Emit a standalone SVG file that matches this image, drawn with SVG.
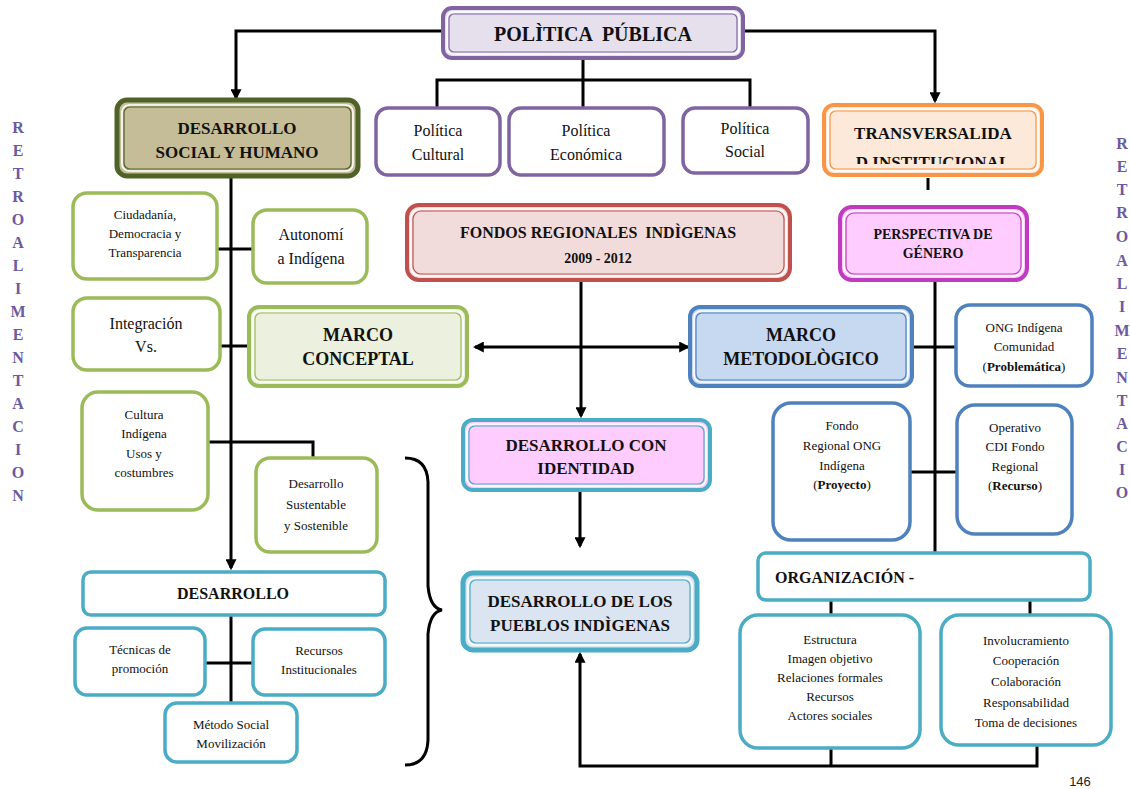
<svg xmlns="http://www.w3.org/2000/svg" width="1130" height="789" viewBox="0 0 1130 789">
<style>
text{font-family:"Liberation Serif","DejaVu Serif",serif;fill:#111;text-anchor:middle}
.b{font-weight:bold}
.h{font-weight:bold;font-size:17px}
.s{font-size:13px}
.m{font-size:16px}
.retro{font-weight:bold;font-size:16px;fill:#6b5a9e}
.ln{fill:none;stroke:#000;stroke-width:3}
.gap{fill:none;stroke:#fff;stroke-width:1.6}
</style>
<defs>
<marker id="ah" viewBox="0 0 10 10" refX="8" refY="5" markerWidth="11" markerHeight="11" markerUnits="userSpaceOnUse" orient="auto-start-reverse">
<path d="M0,0 L10,5 L0,10 z" fill="#000"/>
</marker>
<clipPath id="clipT"><rect x="830" y="110" width="206" height="54"/></clipPath>
</defs>

<g id="connectors">
<path class="ln" d="M443,31 H236 V98" marker-end="url(#ah)"/>
<path class="ln" d="M743,31 H935 V101" marker-end="url(#ah)"/>
<path class="ln" d="M583,58 V108 M437,108 V80 H750 V108"/>
<path class="ln" d="M928,178 V190"/>
<path class="ln" d="M231,176 V568" marker-end="url(#ah)"/>
<path class="ln" d="M217,249 H253"/>
<path class="ln" d="M220,346 H249"/>
<path class="ln" d="M208,442 H313 V458"/>
<path class="ln" d="M231,615 V703 M205,663 H253"/>
<path class="ln" d="M581,280 V416" marker-end="url(#ah)"/>
<path class="ln" d="M475,347 H688" marker-start="url(#ah)" marker-end="url(#ah)"/>
<path class="ln" d="M912,347 H956"/>
<path class="ln" d="M935,280 V553"/>
<path class="ln" d="M910,472 H957"/>
<path class="ln" d="M831,600 V615 M1030,600 V615"/>
<path class="ln" d="M831,748 V766 M1037,745 V766 H580 V654" marker-end="url(#ah)"/>
<path class="ln" d="M580,490 V546" marker-end="url(#ah)"/>
<path class="ln" d="M405,458 Q427,458 428,482 L428,586 Q430,608 442,610 Q430,612 428,634 L428,740 Q427,765 405,765"/>
</g>

<g id="politica-publica">
<rect x="443" y="8" width="300" height="50" rx="9" fill="#e5e0ec" stroke="#8064a2" stroke-width="4"/>
<rect x="447" y="12" width="292" height="42" rx="6" class="gap"/>
<rect x="449" y="14" width="288" height="38" rx="5" fill="none" stroke="#8064a2" stroke-width="1.2"/>
<text x="593" y="41" class="b" font-size="20" xml:space="preserve">POLÌTICA  PÚBLICA</text>
</g>

<g id="politica-cultural">
<rect x="376" y="108" width="124" height="67" rx="12" fill="#fff" stroke="#8064a2" stroke-width="3.5"/>
<text x="438" y="136" class="m">Política</text>
<text x="438" y="160" class="m">Cultural</text>
</g>
<g id="politica-economica">
<rect x="509" y="108" width="155" height="67" rx="12" fill="#fff" stroke="#8064a2" stroke-width="3.5"/>
<text x="586" y="136" class="m">Política</text>
<text x="586" y="160" class="m">Económica</text>
</g>
<g id="politica-social">
<rect x="683" y="108" width="125" height="65" rx="12" fill="#fff" stroke="#8064a2" stroke-width="3.5"/>
<text x="745" y="134" class="m">Política</text>
<text x="745" y="157" class="m">Social</text>
</g>

<g id="transversalidad">
<rect x="824" y="105" width="218" height="70" rx="10" fill="#fde9d9" stroke="#f79646" stroke-width="4"/>
<rect x="828" y="109" width="210" height="62" rx="7" class="gap"/>
<rect x="830" y="111" width="206" height="58" rx="6" fill="none" stroke="#f79646" stroke-width="1.2"/>
<g clip-path="url(#clipT)">
<text x="933" y="139" class="h" font-size="18">TRANSVERSALIDA</text>
<text x="933" y="168" class="h" font-size="18">D INSTITUCIONAL</text>
</g>
</g>

<g id="desarrollo-social">
<rect x="117" y="100" width="241" height="76" rx="10" fill="#c4bd97" stroke="#4f6228" stroke-width="5"/>
<rect x="122" y="105" width="231" height="66" rx="7" class="gap"/>
<rect x="124" y="107" width="227" height="62" rx="6" fill="none" stroke="#4f6228" stroke-width="1.2"/>
<text x="237" y="134" class="h">DESARROLLO</text>
<text x="237" y="158" class="h">SOCIAL Y HUMANO</text>
</g>

<g id="ciudadania">
<rect x="73" y="193" width="144" height="86" rx="14" fill="#fff" stroke="#9bbb59" stroke-width="3.5"/>
<text x="145" y="219" class="s">Ciudadanía,</text>
<text x="145" y="238" class="s">Democracia y</text>
<text x="145" y="257" class="s">Transparencia</text>
</g>
<g id="autonomia">
<rect x="253" y="210" width="114" height="73" rx="14" fill="#fff" stroke="#9bbb59" stroke-width="3.5"/>
<text x="311" y="240" class="m">Autonomí</text>
<text x="311" y="264" class="m">a Indígena</text>
</g>
<g id="integracion">
<rect x="73" y="298" width="147" height="72" rx="14" fill="#fff" stroke="#9bbb59" stroke-width="3.5"/>
<text x="146" y="329" class="m">Integración</text>
<text x="146" y="352" class="m">Vs.</text>
</g>
<g id="marco-conceptal">
<rect x="249" y="307" width="218" height="79" rx="10" fill="#ebf1de" stroke="#9bbb59" stroke-width="4"/>
<rect x="253" y="311" width="210" height="71" rx="7" class="gap"/>
<rect x="255" y="313" width="206" height="67" rx="6" fill="none" stroke="#9bbb59" stroke-width="1.2"/>
<text x="358" y="341" class="b" font-size="18">MARCO</text>
<text x="358" y="365" class="b" font-size="18">CONCEPTAL</text>
</g>
<g id="cultura-indigena">
<rect x="82" y="392" width="126" height="118" rx="16" fill="#fff" stroke="#9bbb59" stroke-width="3.5"/>
<text x="144" y="419" class="s">Cultura</text>
<text x="144" y="438" class="s">Indígena</text>
<text x="144" y="458" class="s">Usos y</text>
<text x="144" y="477" class="s">costumbres</text>
</g>
<g id="desarrollo-sustentable">
<rect x="256" y="458" width="121" height="94" rx="14" fill="#fff" stroke="#9bbb59" stroke-width="3.5"/>
<text x="316" y="488" class="s">Desarrollo</text>
<text x="316" y="509" class="s">Sustentable</text>
<text x="316" y="530" class="s">y Sostenible</text>
</g>

<g id="desarrollo">
<rect x="83" y="572" width="302" height="43" rx="8" fill="#fff" stroke="#4bacc6" stroke-width="3.5"/>
<text x="233" y="599" class="b" font-size="16">DESARROLLO</text>
</g>
<g id="tecnicas">
<rect x="75" y="628" width="130" height="67" rx="12" fill="#fff" stroke="#4bacc6" stroke-width="3.5"/>
<text x="140" y="654" class="s">Técnicas de</text>
<text x="140" y="673" class="s">promoción</text>
</g>
<g id="recursos-inst">
<rect x="253" y="629" width="132" height="66" rx="12" fill="#fff" stroke="#4bacc6" stroke-width="3.5"/>
<text x="319" y="655" class="s">Recursos</text>
<text x="319" y="674" class="s">Institucionales</text>
</g>
<g id="metodo-social">
<rect x="165" y="703" width="132" height="59" rx="12" fill="#fff" stroke="#4bacc6" stroke-width="3.5"/>
<text x="231" y="729" class="s">Método Social</text>
<text x="231" y="748" class="s">Movilización</text>
</g>

<g id="fondos-regionales">
<rect x="407" y="205" width="383" height="75" rx="12" fill="#f2dcdb" stroke="#c0504d" stroke-width="4"/>
<rect x="411" y="209" width="375" height="67" rx="9" class="gap"/>
<rect x="413" y="211" width="371" height="63" rx="8" fill="none" stroke="#c0504d" stroke-width="1.2"/>
<text x="598" y="238" class="b" font-size="16" xml:space="preserve">FONDOS REGIONALES  INDÌGENAS</text>
<text x="598" y="263" class="b" font-size="14">2009 - 2012</text>
</g>

<g id="marco-metodologico">
<rect x="690" y="307" width="222" height="79" rx="10" fill="#c6d9f1" stroke="#4f81bd" stroke-width="4"/>
<rect x="694" y="311" width="214" height="71" rx="7" class="gap"/>
<rect x="696" y="313" width="210" height="67" rx="6" fill="none" stroke="#4f81bd" stroke-width="1.2"/>
<text x="801" y="341" class="b" font-size="18">MARCO</text>
<text x="801" y="365" class="b" font-size="18">METODOLÒGICO</text>
</g>

<g id="perspectiva-genero">
<rect x="840" y="207" width="187" height="73" rx="12" fill="#ffccff" stroke="#c03bc0" stroke-width="4"/>
<rect x="844" y="211" width="179" height="65" rx="9" class="gap"/>
<rect x="846" y="213" width="175" height="61" rx="8" fill="none" stroke="#c03bc0" stroke-width="1.2"/>
<text x="933" y="239" class="b" font-size="14">PERSPECTIVA DE</text>
<text x="933" y="258" class="b" font-size="14">GÉNERO</text>
</g>

<g id="ong-indigena">
<rect x="956" y="305" width="136" height="81" rx="14" fill="#fff" stroke="#4f81bd" stroke-width="3.5"/>
<text x="1024" y="332" class="s">ONG Indígena</text>
<text x="1024" y="351" class="s">Comunidad</text>
<text x="1024" y="371" class="s">(<tspan class="b">Problemática</tspan>)</text>
</g>
<g id="fondo-regional-ong">
<rect x="773" y="403" width="137" height="137" rx="18" fill="#fff" stroke="#4f81bd" stroke-width="3.5"/>
<text x="842" y="430" class="s">Fondo</text>
<text x="842" y="450" class="s">Regional ONG</text>
<text x="842" y="470" class="s">Indígena</text>
<text x="842" y="489" class="s">(<tspan class="b">Proyecto</tspan>)</text>
</g>
<g id="operativo-cdi">
<rect x="957" y="405" width="115" height="129" rx="18" fill="#fff" stroke="#4f81bd" stroke-width="3.5"/>
<text x="1015" y="432" class="s">Operativo</text>
<text x="1015" y="451" class="s">CDI Fondo</text>
<text x="1015" y="471" class="s">Regional</text>
<text x="1015" y="490" class="s">(<tspan class="b">Recurso</tspan>)</text>
</g>

<g id="organizacion">
<rect x="758" y="553" width="332" height="47" rx="8" fill="#fff" stroke="#4bacc6" stroke-width="3.5"/>
<text x="775" y="583" class="b" font-size="16" style="text-anchor:start">ORGANIZACIÓN -</text>
</g>
<g id="estructura">
<rect x="740" y="615" width="180" height="133" rx="18" fill="#fff" stroke="#4bacc6" stroke-width="3.5"/>
<text x="830" y="644" class="s">Estructura</text>
<text x="830" y="663" class="s">Imagen objetivo</text>
<text x="830" y="682" class="s">Relaciones formales</text>
<text x="830" y="701" class="s">Recursos</text>
<text x="830" y="720" class="s">Actores sociales</text>
</g>
<g id="involucramiento">
<rect x="941" y="615" width="170" height="130" rx="18" fill="#fff" stroke="#4bacc6" stroke-width="3.5"/>
<text x="1026" y="645" class="s">Involucramiento</text>
<text x="1026" y="665" class="s">Cooperación</text>
<text x="1026" y="686" class="s">Colaboración</text>
<text x="1026" y="707" class="s">Responsabilidad</text>
<text x="1026" y="727" class="s">Toma de decisiones</text>
</g>

<g id="desarrollo-identidad">
<rect x="463" y="420" width="247" height="70" rx="10" fill="#ffccff" stroke="#4bacc6" stroke-width="4"/>
<rect x="467" y="424" width="239" height="62" rx="7" class="gap"/>
<rect x="469" y="426" width="235" height="58" rx="6" fill="none" stroke="#4bacc6" stroke-width="1.2"/>
<text x="586" y="451" class="h">DESARROLLO CON</text>
<text x="586" y="474" class="h">IDENTIDAD</text>
</g>

<g id="desarrollo-pueblos">
<rect x="463" y="573" width="234" height="77" rx="10" fill="#dbe5f1" stroke="#4bacc6" stroke-width="5"/>
<rect x="468" y="578" width="224" height="67" rx="7" class="gap"/>
<rect x="470" y="580" width="220" height="63" rx="6" fill="none" stroke="#4bacc6" stroke-width="1.2"/>
<text x="580" y="607" class="h">DESARROLLO DE LOS</text>
<text x="580" y="631" class="h">PUEBLOS INDÌGENAS</text>
</g>

<g id="retro-left">
<text class="retro" x="18" y="133">R</text>
<text class="retro" x="18" y="156">E</text>
<text class="retro" x="18" y="179">T</text>
<text class="retro" x="18" y="202">R</text>
<text class="retro" x="18" y="225">O</text>
<text class="retro" x="18" y="248">A</text>
<text class="retro" x="18" y="271">L</text>
<text class="retro" x="18" y="294">I</text>
<text class="retro" x="18" y="317">M</text>
<text class="retro" x="18" y="340">E</text>
<text class="retro" x="18" y="363">N</text>
<text class="retro" x="18" y="386">T</text>
<text class="retro" x="18" y="409">A</text>
<text class="retro" x="18" y="432">C</text>
<text class="retro" x="18" y="455">I</text>
<text class="retro" x="18" y="478">O</text>
<text class="retro" x="18" y="501">N</text>
</g>
<g id="retro-right">
<text class="retro" x="1122" y="149">R</text>
<text class="retro" x="1122" y="172">E</text>
<text class="retro" x="1122" y="195">T</text>
<text class="retro" x="1122" y="218">R</text>
<text class="retro" x="1122" y="242">O</text>
<text class="retro" x="1122" y="266">A</text>
<text class="retro" x="1122" y="289">L</text>
<text class="retro" x="1122" y="312">I</text>
<text class="retro" x="1122" y="336">M</text>
<text class="retro" x="1122" y="359">E</text>
<text class="retro" x="1122" y="383">N</text>
<text class="retro" x="1122" y="406">T</text>
<text class="retro" x="1122" y="429">A</text>
<text class="retro" x="1122" y="452">C</text>
<text class="retro" x="1122" y="475">I</text>
<text class="retro" x="1122" y="498">O</text>
</g>
<text x="1080" y="786" style="font-family:'Liberation Sans',Arial,sans-serif;font-size:13px;fill:#222">146</text>
</svg>
